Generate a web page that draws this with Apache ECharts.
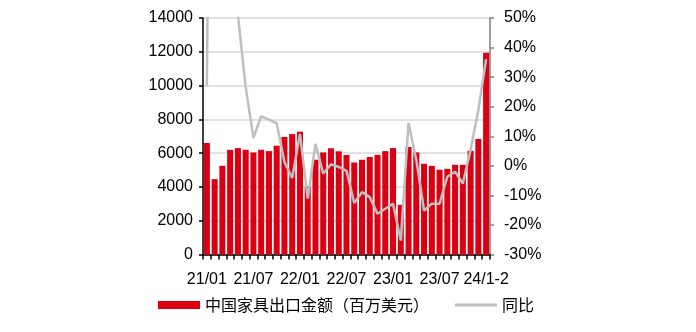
<!DOCTYPE html>
<html>
<head>
<meta charset="utf-8">
<script src="https://cdn.jsdelivr.net/npm/echarts@6/dist/echarts.min.js"></script>
<style>
  html, body { margin: 0; padding: 0; background: #ffffff; }
  #chart { width: 696px; height: 332px; }
</style>
</head>
<body>
<div id="chart"></div>
<script>
// Monthly furniture exports, Jan 2021 – Jan/Feb 2024
const months = [
  '21/01','21/02','21/03','21/04','21/05','21/06','21/07','21/08','21/09','21/10','21/11','21/12',
  '22/01','22/02','22/03','22/04','22/05','22/06','22/07','22/08','22/09','22/10','22/11','22/12',
  '23/01','23/02','23/03','23/04','23/05','23/06','23/07','23/08','23/09','23/10','23/11','23/12',
  '24/1-2'
];

// Export value, USD million
const exportValue = [
  6600, 4460, 5250, 6200, 6300, 6200, 6040, 6200, 6120, 6440, 6960, 7130,
  7270, 4030, 5610, 6040, 6290, 6110, 5890, 5450, 5610, 5770, 5900, 6120,
  6300, 2940, 6360, 6040, 5370, 5250, 5020, 5070, 5310, 5310, 6140, 6840,
  11940
];

// Year-on-year change, %
const yoyChange = [
  27.0, 320, 180, 90, 51, 26.8, 9.5, 16.8, 15.6, 14.4, 1.3, -4.1,
  10.8, -11.1, 7.4, -2.6, 0.5, -0.4, -1.7, -12.6, -8.9, -10.6, -16.2, -14.5,
  -12.8, -25.3, 14.5, 2.0, -15.1, -12.8, -12.8, -3.7, -2.0, -6.0, 5.4, 18.9,
  36.1
];

const leftTicks = { min: 0, max: 14000, step: 2000 };
const rightTicks = { min: -30, max: 50, step: 10 };

const valueName = '中国家具出口金额（百万美元）';
const yoyName = '同比';

const latin = "'Liberation Sans', Arial, 'Noto Sans CJK SC', sans-serif";
const cjk = "'Noto Sans CJK SC', 'Liberation Sans', sans-serif";

const chart = echarts.init(document.getElementById('chart'), null, { renderer: 'canvas' });

chart.setOption({
  animation: false,
  backgroundColor: '#ffffff',
  grid: { left: 203, right: 206, top: 18, bottom: 77.5, containLabel: false },
  legend: [
    {
      data: [valueName],
      left: 158, top: 297, padding: 0,
      itemWidth: 42, itemHeight: 8,
      icon: 'rect',
      textStyle: { color: '#000', fontSize: 16, fontFamily: cjk }
    },
    {
      data: [yoyName],
      left: 455, top: 297, padding: 0,
      itemWidth: 42, itemHeight: 3,
      icon: 'rect',
      itemStyle: { color: '#BFBFBF' },
      textStyle: { color: '#000', fontSize: 16, fontFamily: cjk }
    }
  ],
  xAxis: {
    type: 'category',
    data: months,
    boundaryGap: true,
    axisLine: { lineStyle: { color: '#000', width: 1.5 } },
    axisTick: { show: true, interval: 0, length: 5, alignWithLabel: false, lineStyle: { color: '#000', width: 1.5 } },
    axisLabel: { interval: 5, color: '#000', fontSize: 16, fontFamily: latin, margin: 17 },
    splitLine: { show: false }
  },
  yAxis: [
    {
      type: 'value',
      min: leftTicks.min, max: leftTicks.max, interval: leftTicks.step,
      axisLine: { show: true, lineStyle: { color: '#000', width: 1.5 } },
      axisTick: { show: true, length: 4, lineStyle: { color: '#000', width: 1.5 } },
      axisLabel: { color: '#000', fontSize: 16, fontFamily: latin, margin: 10, formatter: (v) => String(v) },
      splitLine: { show: true, lineStyle: { color: '#D9D9D9', width: 1.5 } }
    },
    {
      type: 'value',
      min: rightTicks.min, max: rightTicks.max, interval: rightTicks.step,
      position: 'right',
      axisLine: { show: true, lineStyle: { color: '#808080', width: 1.5 } },
      axisTick: { show: true, length: 4, lineStyle: { color: '#808080', width: 1.5 } },
      axisLabel: { color: '#000', fontSize: 16, fontFamily: latin, margin: 14, formatter: '{value}%' },
      splitLine: { show: false }
    }
  ],
  series: [
    {
      name: valueName,
      type: 'bar',
      data: exportValue,
      yAxisIndex: 0,
      barCategoryGap: '22%',
      itemStyle: { color: '#DA0012' },
      z: 2
    },
    {
      name: yoyName,
      type: 'line',
      data: yoyChange,
      yAxisIndex: 1,
      symbol: 'none',
      clip: true,
      lineStyle: { color: '#BFBFBF', width: 2.5 },
      itemStyle: { color: '#BFBFBF' },
      z: 3
    }
  ]
});
</script>
</body>
</html>
